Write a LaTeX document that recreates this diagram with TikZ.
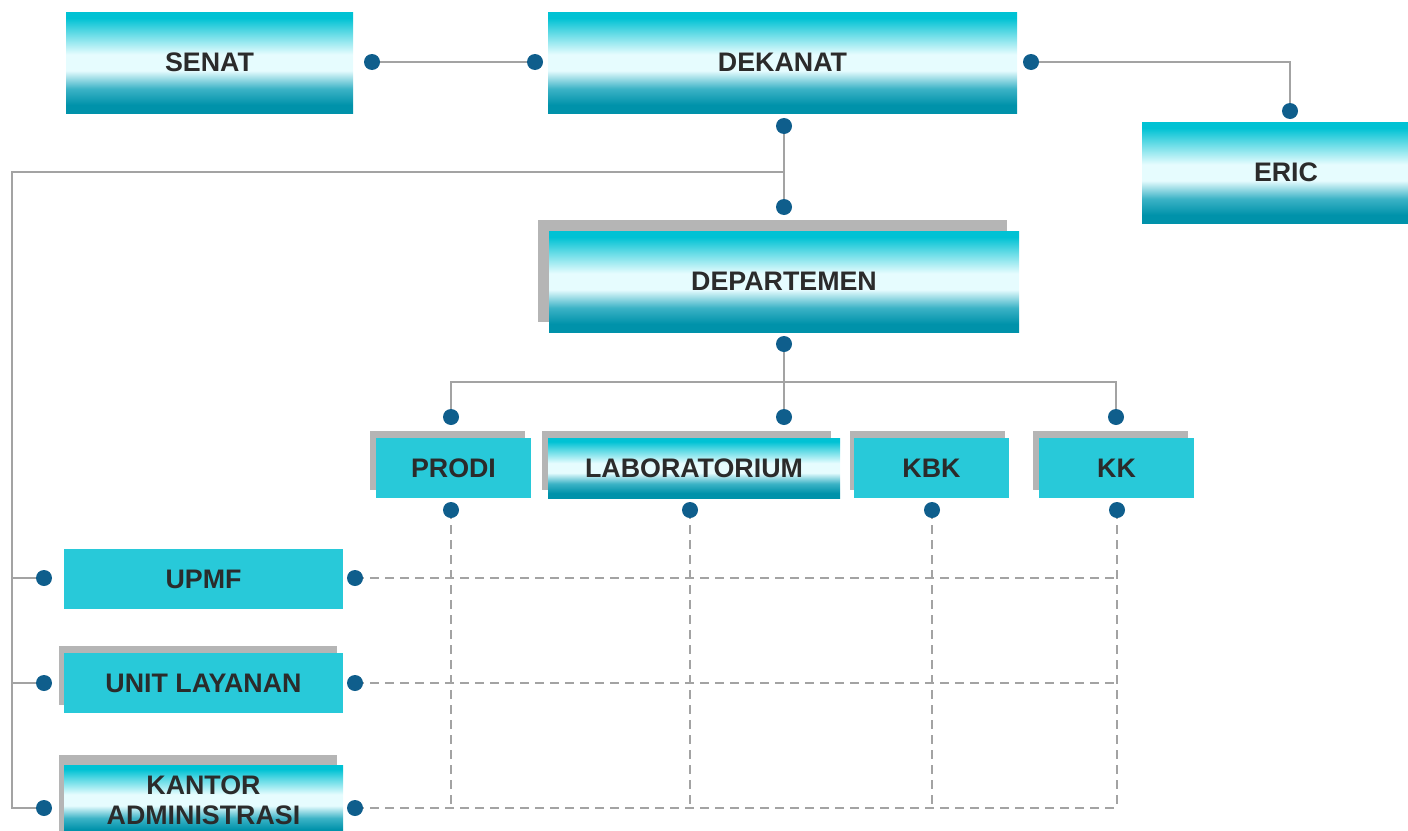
\documentclass[tikz,border=0pt]{standalone}
\usepackage{fontspec}
\setmainfont{Liberation Sans}
\usetikzlibrary{backgrounds}
\definecolor{topc}{HTML}{00C2D4}
\definecolor{topc2}{HTML}{4FD6E2}
\definecolor{lightc}{HTML}{E6FCFE}
\definecolor{botc2}{HTML}{3CB3C6}
\definecolor{botc}{HTML}{0092AA}
\definecolor{flatc}{HTML}{28C9D9}
\definecolor{shadc}{HTML}{B5B5B5}
\definecolor{dotc}{HTML}{0F5E8C}
\definecolor{linec}{HTML}{A3A3A3}
\definecolor{textc}{HTML}{2B2B2B}
\pgfdeclareverticalshading{tealgrad}{100bp}{color(0bp)=(botc); color(25bp)=(botc); color(29bp)=(botc); color(37bp)=(botc2); color(46bp)=(lightc); color(54bp)=(lightc); color(66bp)=(topc2); color(72bp)=(topc); color(75bp)=(topc); color(100bp)=(topc)}
\tikzset{
  box/.style={inner sep=0pt, text=textc, font=\fontsize{13.4pt}{15pt}\selectfont\bfseries, align=center},
  gbox/.style={box, shading=tealgrad},
  fbox/.style={box, fill=flatc},
  shad/.style={fill=shadc},
  dotn/.style={circle, fill=dotc, inner sep=0pt, minimum size=8pt},
  conn/.style={draw=linec, line width=1pt},
  dconn/.style={draw=linec, line width=0.9pt, dash pattern=on 4.5pt off 3pt}
}
\begin{document}
\begin{tikzpicture}[x=0.5pt, y=-0.5pt]
\useasboundingbox (0,0) rectangle (1408,830);
% shadows
\fill[shad] (538,220) rectangle (1007,322);
\fill[shad] (370,431) rectangle (525,490);
\fill[shad] (542,431) rectangle (831,490);
\fill[shad] (850,431) rectangle (1005,490);
\fill[shad] (1033,431) rectangle (1188,490);
\fill[shad] (59,646) rectangle (337,705);
\fill[shad] (59,755) rectangle (337,840);
% boxes
\node[gbox, minimum width=143.5pt, minimum height=50.5pt] (senat) at (209.5,62.5) {SENAT};
\node[gbox, minimum width=234.5pt, minimum height=50.5pt] (dekanat) at (782.5,62.5) {DEKANAT};
\node[gbox, minimum width=144pt, minimum height=50.5pt] (eric) at (1286,172.5) {ERIC};
\node[gbox, minimum width=235pt, minimum height=50.5pt] (dep) at (784,281.5) {DEPARTEMEN};
\node[fbox, minimum width=77.5pt, minimum height=30pt] (prodi) at (453.5,468) {PRODI};
\node[gbox, minimum width=146pt, minimum height=30pt] (lab) at (694,468) {LABORATORIUM};
\node[fbox, minimum width=77.5pt, minimum height=30pt] (kbk) at (931.5,468) {KBK};
\node[fbox, minimum width=77.5pt, minimum height=30pt] (kk) at (1116.5,468) {KK};
\node[fbox, minimum width=139.5pt, minimum height=30pt] (upmf) at (203.5,579) {UPMF};
\node[fbox, minimum width=139.5pt, minimum height=30pt] (unit) at (203.5,683) {UNIT LAYANAN};
\node[gbox, minimum width=139.5pt, minimum height=35pt] (kantor) at (203.5,800) {KANTOR\\ADMINISTRASI};
% dots
\node[dotn] (senR) at (372,62) {};
\node[dotn] (dekL) at (535,62) {};
\node[dotn] (dekR) at (1031,62) {};
\node[dotn] (ericT) at (1290,111) {};
\node[dotn] (dekB) at (784,126) {};
\node[dotn] (depT) at (784,207) {};
\node[dotn] (depB) at (784,344) {};
\node[dotn] (prT) at (451,417) {};
\node[dotn] (labT) at (784,417) {};
\node[dotn] (kkT) at (1116,417) {};
\node[dotn] (prB) at (451,510) {};
\node[dotn] (labB) at (690,510) {};
\node[dotn] (kbkB) at (932,510) {};
\node[dotn] (kkB) at (1117,510) {};
\node[dotn] (upL) at (44,578) {};
\node[dotn] (ulL) at (44,683) {};
\node[dotn] (kaL) at (44,808) {};
\node[dotn] (upR) at (355,578) {};
\node[dotn] (ulR) at (355,683) {};
\node[dotn] (kaR) at (355,808) {};
\coordinate (j1) at (784,172);
\coordinate (lt) at (12,172);
\coordinate (lb) at (12,808);
\coordinate (j2) at (784,382);
\begin{pgfonlayer}{background}
\draw[conn] (senR.center) -- (dekL.center);
\draw[conn] (dekR.center) -| (ericT.center);
\draw[conn] (dekB.center) -- (depT.center);
\draw[conn] (j1) -- (lt) -- (lb) -- (kaL.center);
\draw[conn] (upL.center -| lt) -- (upL.center);
\draw[conn] (ulL.center -| lt) -- (ulL.center);
\draw[conn] (depB.center) -- (j2);
\draw[conn] (prT.center) |- (j2) -| (kkT.center);
\draw[conn] (j2) -- (labT.center);
\draw[dconn] (prB.center) -- (prB.center |- kaR.center);
\draw[dconn] (labB.center) -- (labB.center |- kaR.center);
\draw[dconn] (kbkB.center) -- (kbkB.center |- kaR.center);
\draw[dconn] (kkB.center) -- (kkB.center |- kaR.center);
\draw[dconn] (upR.center) -- (upR.center -| kkB.center);
\draw[dconn] (ulR.center) -- (ulR.center -| kkB.center);
\draw[dconn] (kaR.center) -- (kaR.center -| kkB.center);
\end{pgfonlayer}
\end{tikzpicture}
\end{document}
